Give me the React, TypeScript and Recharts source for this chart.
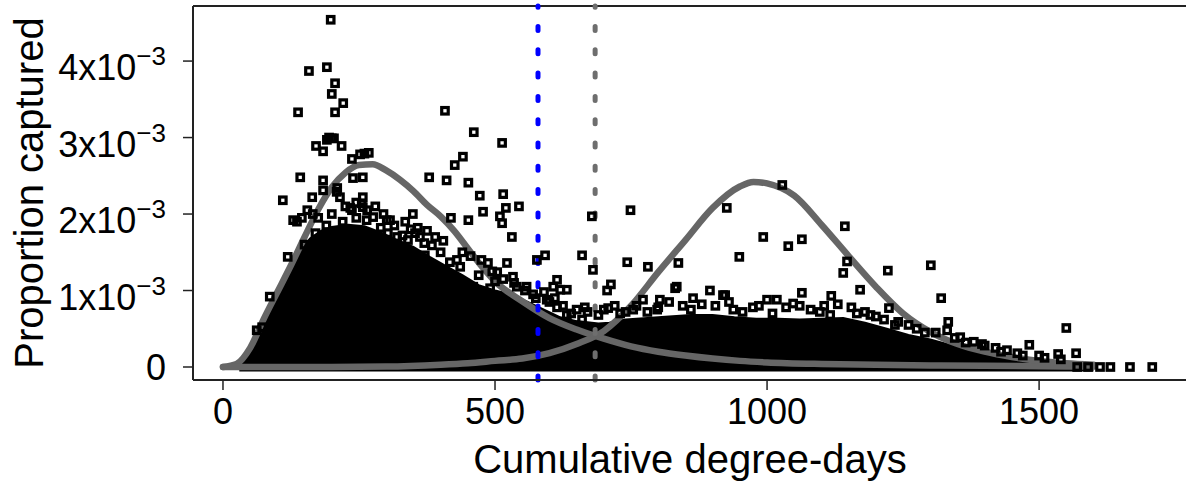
import React from 'react';
import { ComposedChart, Area, Line, Scatter, XAxis, YAxis, ReferenceLine } from 'recharts';

const FONT = '"Liberation Sans", Arial, Helvetica, sans-serif';

// [cumulative degree-days, proportion captured in units of 1e-3]
const captured: [number, number][] = [
  [198, 4.54], [158, 3.87], [191, 3.92], [206, 3.71], [200, 3.57], [221, 3.45], [206, 3.33], [138, 3.33],
  [195, 3.0], [200, 2.99], [191, 2.97], [204, 2.99], [171, 2.89], [184, 2.82], [218, 2.89], [268, 2.8],
  [252, 2.78], [237, 2.72], [260, 2.79], [142, 2.48], [184, 2.44], [257, 2.48], [239, 2.47], [110, 2.18],
  [164, 2.22], [215, 2.22], [257, 2.22], [257, 2.09], [237, 2.05], [184, 2.31], [210, 2.34], [209, 2.29],
  [234, 2.08], [276, 1.96], [283, 1.66], [279, 1.37], [270, 1.29], [136, 1.9], [129, 1.92], [119, 1.44],
  [86, 0.92], [62, 0.48], [74, 0.29], [72, 0.52], [301, 1.92], [303, 1.75], [264, 1.92], [255, 2.14],
  [408, 3.35], [461, 3.07], [513, 2.93], [441, 2.75], [426, 2.64], [379, 2.48], [411, 2.44], [451, 2.41],
  [472, 2.24], [515, 2.26], [520, 2.08], [544, 2.1], [478, 2.03], [451, 1.92], [419, 1.95], [509, 1.97],
  [513, 1.88], [349, 2.0], [307, 1.92], [320, 1.7], [358, 1.82], [362, 1.7], [531, 1.7],
  [340, 1.66], [353, 1.75], [371, 1.46], [384, 1.59], [417, 1.37], [436, 1.31], [487, 1.36], [522, 1.36],
  [504, 1.24], [533, 1.18], [558, 1.05], [491, 1.03], [460, 1.05], [595, 0.88], [620, 1.01], [614, 0.78],
  [632, 0.68], [614, 1.14], [607, 1.05], [632, 1.01], [577, 1.4], [592, 1.46],
  [678, 1.97], [749, 2.05], [660, 1.46], [680, 1.27], [743, 1.37], [781, 1.31], [837, 1.36], [665, 0.78],
  [706, 1.0], [713, 1.08], [708, 0.77], [831, 1.03], [895, 1.0], [923, 0.94], [864, 0.9], [803, 0.88],
  [1018, 0.88], [926, 2.08], [1028, 2.38], [993, 1.7], [1039, 1.58], [1064, 1.67], [949, 1.44], [1064, 0.97],
  [1143, 1.84], [1147, 1.38], [1140, 1.23], [1222, 1.26], [1301, 1.33], [1118, 0.93], [1171, 1.01], [1320, 0.9],
  [1224, 0.77], [1241, 0.59], [1333, 0.59], [1331, 0.48], [1355, 0.39], [1441, 0.22], [1482, 0.29], [1550, 0.51],
  [1535, 0.17], [1568, 0.18], [1570, 0], [1590, 0], [1612, 0], [1631, 0], [1667, 0], [1708, 0],
  [730, 0.7], [772, 0.88], [798, 0.75], [834, 1.05], [919, 0.94], [938, 0.75], [974, 0.78], [1000, 0.88],
  [1048, 0.83], [816, 0.52], [790, 0.52], [754, 0.75], [1097, 0.72], [1116, 0.68], [1180, 0.72], [1200, 0.66],
  [1260, 0.55], [1290, 0.45], [1380, 0.33], [1400, 0.28], [1420, 0.25], [1460, 0.18], [1500, 0.15],
  [150, 1.6], [170, 1.75], [190, 1.85], [220, 1.9], [245, 1.95], [290, 1.82], [330, 1.72], [370, 1.62],
  [400, 1.5], [430, 1.4], [470, 1.2], [500, 1.12], [540, 1.05], [570, 0.95], [600, 0.85], [640, 0.7], [660, 0.62],
  [145, 1.95], [155, 2.05], [165, 2.0], [175, 1.95], [200, 2.0], [225, 2.1], [245, 2.15], [265, 2.05],
  [280, 2.1], [295, 2.0], [315, 1.85], [335, 1.9], [345, 1.8], [375, 1.78], [390, 1.7], [405, 1.65],
  [440, 1.5], [455, 1.45], [475, 1.4], [495, 1.25], [515, 1.15], [535, 1.1], [555, 1.0], [575, 0.9],
  [590, 0.98], [610, 0.9], [625, 0.8], [650, 0.75], [670, 0.72], [690, 0.68], [700, 0.75], [720, 0.8],
  [740, 0.72], [760, 0.8], [780, 0.72], [800, 0.78], [820, 0.85], [845, 0.8], [860, 0.75], [880, 0.82],
  [905, 0.8], [930, 0.85], [955, 0.72], [985, 0.8], [1010, 0.7], [1035, 0.78], [1060, 0.8], [1080, 0.75],
  [1105, 0.8], [1130, 0.82], [1155, 0.78], [1165, 0.7], [1190, 0.68], [1215, 0.62], [1235, 0.55], [1275, 0.5],
  [1310, 0.45], [1345, 0.38], [1365, 0.32], [1395, 0.3], [1430, 0.2], [1470, 0.15], [1510, 0.12], [1540, 0.1],
];

// upper edge of the solid mass of overlapping points
const denseCore: [number, number][] = [
  [30, 0], [45, 0.15], [60, 0.34], [75, 0.58], [90, 0.82], [105, 1.02], [120, 1.22], [140, 1.5],
  [160, 1.68], [180, 1.78], [200, 1.83], [230, 1.86], [260, 1.84], [290, 1.76], [320, 1.66], [350, 1.57],
  [380, 1.44], [410, 1.32], [440, 1.2], [470, 1.07], [500, 1.0], [530, 0.95], [560, 0.85], [590, 0.75],
  [620, 0.65], [650, 0.6], [690, 0.57], [710, 0.58], [740, 0.62], [780, 0.64], [820, 0.66], [860, 0.68],
  [900, 0.68], [940, 0.65], [980, 0.63], [1020, 0.63], [1060, 0.62], [1100, 0.63], [1140, 0.64], [1180, 0.58],
  [1220, 0.5], [1260, 0.42], [1300, 0.36], [1340, 0.28], [1380, 0.22], [1420, 0.16], [1460, 0.12],
  [1500, 0.08], [1540, 0.05], [1580, 0.02], [1600, 0],
];

const fitEarly: [number, number][] = [
  [0, 0], [25, 0.04], [50, 0.25], [75, 0.63], [100, 0.98], [125, 1.33], [150, 1.7], [175, 2.06],
  [200, 2.35], [225, 2.54], [250, 2.64], [275, 2.65], [300, 2.57], [325, 2.45], [350, 2.3], [375, 2.12],
  [400, 1.97], [425, 1.78], [450, 1.55], [475, 1.32], [500, 1.12], [550, 0.86], [600, 0.64], [650, 0.49],
  [700, 0.37], [750, 0.27], [800, 0.2], [850, 0.15], [900, 0.11], [950, 0.08], [1000, 0.06], [1100, 0.04],
  [1200, 0.03], [1300, 0.02], [1400, 0.015], [1500, 0.01], [1600, 0.005],
];

const fitLate: [number, number][] = [
  [0, 0], [100, 0], [200, 0], [300, 0.005], [400, 0.03], [450, 0.05], [500, 0.08], [550, 0.11],
  [600, 0.18], [650, 0.3], [700, 0.47], [750, 0.8], [800, 1.24], [850, 1.66], [900, 2.08], [950, 2.36],
  [975, 2.42], [1000, 2.4], [1050, 2.24], [1100, 1.86], [1150, 1.45], [1200, 1.05], [1250, 0.7],
  [1300, 0.46], [1350, 0.3], [1400, 0.2], [1450, 0.13], [1500, 0.08], [1550, 0.05], [1600, 0.03],
];

const xTicks = [0, 500, 1000, 1500];
const yTicks = [0, 1, 2, 3, 4];
const cutoffBlue = 579;
const cutoffGray = 684;

const X_MIN = -55.1;
const X_MAX = 1770;
const Y_MIN = -0.17;
const Y_MAX = 4.72;

const valueAt = (arr: [number, number][], x: number) => {
  const hit = arr.find(d => d[0] === x);
  return hit ? hit[1] : null;
};

const allX = Array.from(new Set([...denseCore, ...fitEarly, ...fitLate].map(d => d[0]))).sort((a, b) => a - b);
const table = allX.map(dd => ({
  dd,
  core: valueAt(denseCore, dd),
  early: valueAt(fitEarly, dd),
  late: valueAt(fitLate, dd),
}));
const pointData = captured.map(([dd, p]) => ({ dd, p }));

const Square = (props: any) => {
  const { cx, cy } = props;
  if (cx == null || cy == null) return null;
  return <rect x={cx - 3.25} y={cy - 3.25} width={6.5} height={6.5} fill="none" stroke="#000" strokeWidth={3.2} />;
};

const YTick = (props: any) => {
  const { y, payload } = props;
  const v = payload.value;
  if (v === 0) {
    return (
      <text x={166} y={y + 13} textAnchor="end" fontSize={36} fontFamily={FONT} fill="#000">0</text>
    );
  }
  return (
    <text x={166} y={y + 19} textAnchor="end" fontSize={36} fontFamily={FONT} fill="#000">
      <tspan>{v}x10</tspan>
      <tspan dy={-15} fontSize={26}>{'\u22123'}</tspan>
    </text>
  );
};

const XTick = (props: any) => {
  const { x, payload } = props;
  return (
    <text x={x} y={424} textAnchor="middle" fontSize={36} fontFamily={FONT} fill="#000">{payload.value}</text>
  );
};

const App: React.FC = () => {
  return (
    <div style={{ position: 'absolute', left: 0, top: 0, width: 1186, height: 483, background: '#fff', overflow: 'hidden' }}>
      <ComposedChart width={1186} height={483} data={table} margin={{ top: 6, right: 0, bottom: 0, left: 0 }}>
        <XAxis
          type="number"
          dataKey="dd"
          domain={[X_MIN, X_MAX]}
          ticks={xTicks}
          interval={0}
          allowDataOverflow
          height={103}
          tickSize={10}
          axisLine={{ stroke: '#222', strokeWidth: 2 }}
          tickLine={{ stroke: '#222', strokeWidth: 1.5 }}
          tick={XTick}
        />
        <YAxis
          type="number"
          domain={[Y_MIN, Y_MAX]}
          ticks={yTicks}
          interval={0}
          allowDataOverflow
          width={193}
          tickSize={10}
          axisLine={{ stroke: '#222', strokeWidth: 2 }}
          tickLine={{ stroke: '#222', strokeWidth: 1.5 }}
          tick={YTick}
        />
        <ReferenceLine y={Y_MAX} stroke="#222" strokeWidth={2} />
        <Area
          dataKey="core"
          type="linear"
          baseValue={-0.06}
          connectNulls
          fill="#000"
          fillOpacity={1}
          stroke="#000"
          strokeWidth={2}
          isAnimationActive={false}
        />
        <Scatter data={pointData} dataKey="p" shape={Square} isAnimationActive={false} />
        <Line dataKey="early" type="monotone" connectNulls stroke="#666" strokeWidth={6.5} strokeLinecap="round" dot={false} isAnimationActive={false} />
        <Line dataKey="late" type="monotone" connectNulls stroke="#666" strokeWidth={6.5} strokeLinecap="round" dot={false} isAnimationActive={false} />
        <ReferenceLine x={cutoffBlue} stroke="#0000ff" strokeWidth={5} strokeDasharray="4 19.3" strokeLinecap="round" />
        <ReferenceLine x={cutoffGray} stroke="#6e6e6e" strokeWidth={5} strokeDasharray="4 19.3" strokeLinecap="round" />
      </ComposedChart>
      <svg width={1186} height={483} style={{ position: 'absolute', left: 0, top: 0, pointerEvents: 'none' }}>
        <text x={690} y={473} textAnchor="middle" fontSize={40} fontFamily={FONT} fill="#000">Cumulative degree-days</text>
        <text x={43} y={193} textAnchor="middle" fontSize={40} fontFamily={FONT} fill="#000" transform="rotate(-90, 43, 193)">
          Proportion captured
        </text>
      </svg>
    </div>
  );
};

export default App;
